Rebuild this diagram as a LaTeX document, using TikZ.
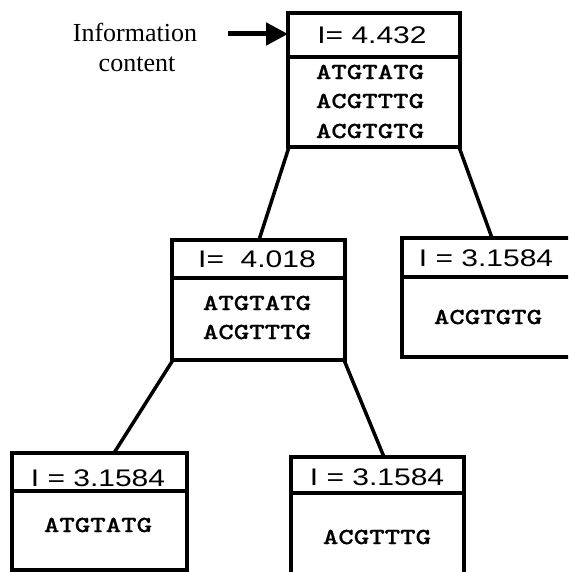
\documentclass[tikz,border=0pt]{standalone}
\usepackage{fontspec}
\setmainfont{Liberation Serif}
\newfontfamily\hdrfont[FakeStretch=1.25]{Liberation Sans}
\newfontfamily\seqfont[FakeStretch=1.28,FakeBold=0.6]{lmmonolt10-bold.otf}
\usetikzlibrary{arrows.meta}
\begin{document}
\begin{tikzpicture}[x=1pt,y=-1pt,
  box/.style={draw,line width=4pt,outer sep=0pt,inner sep=0pt},
  divider/.style={line width=3.5pt},
  leg/.style={line width=3.5pt},
  hdr/.style={font=\hdrfont\fontsize{24}{24}\selectfont,inner sep=0pt},
  seq/.style={font=\seqfont\fontsize{23}{23}\selectfont,inner sep=0pt},
  info/.style={font=\fontsize{26}{30}\selectfont,inner sep=0pt,anchor=base},
  pointer/.style={line width=5pt,-{Triangle[length=22pt,width=22pt]}}]
\useasboundingbox (0,0) rectangle (568,572);
\clip (0,0) rectangle (568,572);

% boxes
\node[box,minimum width=172pt,minimum height=134pt] (top) at (374,80) {};
\node[box,minimum width=173pt,minimum height=120pt] (mid) at (258.5,300) {};
\node[box,minimum width=173pt,minimum height=119pt] (rgt) at (488.5,297.5) {};
\node[box,minimum width=175pt,minimum height=117pt] (bl) at (99.5,511.5) {};
\node[box,minimum width=173pt,minimum height=117pt] (br) at (377.5,515.5) {};

% header dividers
\draw[divider] ([yshift=-44pt]top.north west) -- ([yshift=-44pt]top.north east);
\draw[divider] ([yshift=-38pt]mid.north west) -- ([yshift=-38pt]mid.north east);
\draw[divider] ([yshift=-39pt]rgt.north west) -- ([yshift=-39pt]rgt.north east);
\draw[divider] ([yshift=-38pt]bl.north west) -- ([yshift=-38pt]bl.north east);
\draw[divider] ([yshift=-36pt]br.north west) -- ([yshift=-36pt]br.north east);

% headers
\node[hdr] (toph) at (372,35) {I= 4.432};
\node[hdr] (midh) at (257,259) {I=\ \ 4.018};
\node[hdr] (rgth) at (486,258) {I = 3.1584};
\node[hdr] (blh) at (98,478) {I = 3.1584};
\node[hdr] (brh) at (377,477) {I = 3.1584};

% sequences
\node[seq] (tops1) at (370,72) {ATGTATG};
\node[seq] (tops2) at (370,101) {ACGTTTG};
\node[seq] (tops3) at (370,131) {ACGTGTG};
\node[seq] (mids1) at (257,303) {ATGTATG};
\node[seq] (mids2) at (257,332) {ACGTTTG};
\node[seq] (rgts1) at (488,317) {ACGTGTG};
\node[seq] (bls1) at (98,525) {ATGTATG};
\node[seq] (brs1) at (377,537) {ACGTTTG};

% tree connectors
\draw[leg] ([xshift=1pt]top.south west) -- ([xshift=0.5pt]mid.north);
\draw[leg] ([xshift=-1pt]top.south east) -- ([xshift=3.5pt]rgt.north);
\draw[leg] ([xshift=1pt]mid.south west) -- ([xshift=14.5pt]bl.north);
\draw[leg] ([xshift=-1pt]mid.south east) -- ([xshift=6.5pt]br.north);

% information content label and arrow
\node[info] (info1) at (135,42) {Information};
\node[info] (info2) at (137,72) {content};
\coordinate (arrowtail) at (228,34);
\draw[pointer] (arrowtail) -- (arrowtail -| top.west);
\end{tikzpicture}
\end{document}
